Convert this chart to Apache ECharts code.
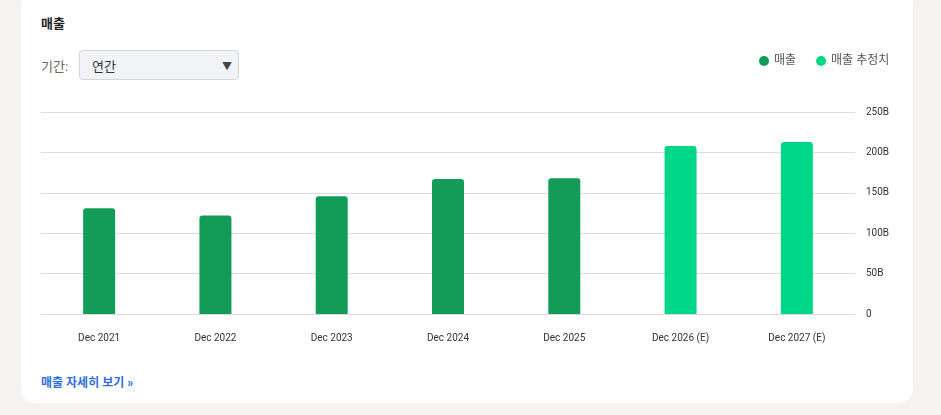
<!DOCTYPE html>
<html><head><meta charset="utf-8">
<script src="https://cdn.jsdelivr.net/npm/echarts@6/dist/echarts.min.js"></script>
<style>
html,body{margin:0;padding:0;width:941px;height:415px;background:#f5f2f0;overflow:hidden;font-family:Roboto,"Noto Sans CJK KR",sans-serif;}
#card{position:absolute;left:21px;top:-12px;width:892px;height:415px;background:#fff;border-radius:14px;}
#title{position:absolute;left:41px;top:13px;font-size:13px;font-weight:bold;color:#222;}
#plabel{position:absolute;left:41px;top:56px;font-size:13px;color:#666;}
#sel{position:absolute;left:79px;top:50px;width:158px;height:28px;background:#f1f3f6;border:1px solid #d3d5d8;border-radius:4px;}
#sel span{position:absolute;left:12px;top:5px;font-size:13px;color:#333;}
#sel i{position:absolute;right:6px;top:7px;font-style:normal;font-size:10px;color:#444;}
#link{position:absolute;left:41px;top:373px;font-size:12px;font-weight:bold;color:#2f6fdb;}
#chart{position:absolute;left:0;top:0;width:941px;height:415px;}
</style></head><body>
<div id="card"></div>
<div id="title">매출</div>
<div id="plabel">기간:</div>
<div id="sel"><span>연간</span><i>▼</i></div>
<div id="link">매출 자세히 보기 »</div>
<div id="chart"></div>
<script>
const categories = ['Dec 2021','Dec 2022','Dec 2023','Dec 2024','Dec 2025','Dec 2026 (E)','Dec 2027 (E)'];
const revenue = [130.8, 122, 145.7, 167, 168, null, null];
const revenueEstimate = [null, null, null, null, null, 208, 213];
const yTicks = [0, 50, 100, 150, 200, 250];

const chart = echarts.init(document.getElementById('chart'), null, {renderer:'canvas'});
const font = 'Roboto, "Noto Sans CJK KR", sans-serif';
chart.setOption({
  animation:false,
  textStyle:{fontFamily:font},
  legend:{
    top:50, left:754, icon:'circle', itemWidth:10, itemHeight:10, itemGap:20,
    textStyle:{fontSize:12, color:'#555', fontFamily:font},
    data:['매출','매출 추정치']
  },
  grid:{left:41, right:86, top:112, bottom:101, containLabel:false},
  xAxis:{
    type:'category', data:categories,
    axisLine:{lineStyle:{color:'#d8d8d8'}}, axisTick:{show:false},
    axisLabel:{fontSize:10, color:'#333', margin:19}
  },
  yAxis:{
    type:'value', position:'right', min:yTicks[0], max:yTicks[yTicks.length-1], interval:50,
    axisLine:{show:false}, axisTick:{show:false},
    splitLine:{lineStyle:{color:'#dcdcdc'}},
    axisLabel:{fontSize:10, color:'#333', margin:11, padding:[4,0,0,0], formatter:v=> v===0?'0':v+'B'}
  },
  series:[
    {name:'매출', type:'bar', stack:'s', data:revenue, barWidth:32,
     itemStyle:{color:'#129c58', borderRadius:[3,3,0,0]}},
    {name:'매출 추정치', type:'bar', stack:'s', data:revenueEstimate, barWidth:32,
     itemStyle:{color:'#00d688', borderRadius:[3,3,0,0]}}
  ]
});
</script>
</body></html>
